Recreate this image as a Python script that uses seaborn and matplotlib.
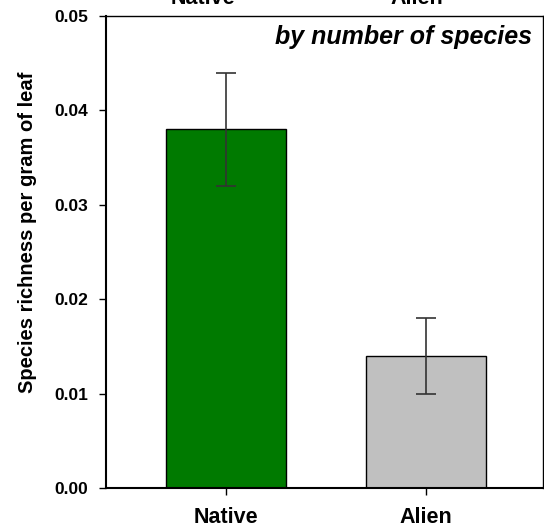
import matplotlib
matplotlib.use("Agg")
import matplotlib.pyplot as plt
import seaborn as sns
import pandas as pd

categories = ["Native", "Alien"]
values = [0.038, 0.014]
errors = [0.006, 0.004]
colors = ["#007A00", "#C0C0C0"]
yticks = [0.00, 0.01, 0.02, 0.03, 0.04, 0.05]
ytick_labels = ["0.00", "0.01", "0.02", "0.03", "0.04", "0.05"]
top_labels = ["Native", "Alien"]

sns.set_theme(style="white")
plt.rcParams["font.family"] = ["Liberation Sans", "DejaVu Sans"]
plt.rcParams["text.color"] = "black"
plt.rcParams["axes.labelcolor"] = "black"

df = pd.DataFrame({"group": categories, "value": values})

fig = plt.figure(figsize=(5.44, 5.29), dpi=100)
ax = fig.add_axes([106/544, 1-488/529, (543-106)/544, (488-16)/529])

sns.barplot(data=df, x="group", y="value", hue="group", palette=colors,
            width=0.6, edgecolor="black", linewidth=1.0, legend=False, ax=ax,
            errorbar=None, saturation=1)
ax.errorbar(x=list(range(len(categories))), y=values, yerr=errors, fmt="none",
            ecolor="#333333", elinewidth=1.2, capsize=7, capthick=1.2)

ax.set_yticks(yticks)
ax.set_yticklabels(ytick_labels, fontsize=12.5, fontweight="bold", color="black")
ax.set_xticks(range(len(categories)))
ax.set_xticklabels(categories, fontsize=15.5, fontweight="bold", color="black")
ax.set_xlim(-0.6, 0.585 + 1)
ax.set_ylim(0, 0.05)
ax.set_xlabel("")
ax.set_ylabel("Species richness per gram of leaf", fontsize=14.5, fontweight="bold",
              color="black")
ax.yaxis.set_label_coords(-(106-37)/437, (488-232)/472)
ax.tick_params(axis="both", direction="out", length=5, width=1, colors="black",
               left=True, bottom=True)
ax.tick_params(axis="y", pad=8)
ax.tick_params(axis="x", pad=9)
for s in ["left", "bottom"]:
    ax.spines[s].set_linewidth(1.5)
    ax.spines[s].set_color("black")
for s in ["top", "right"]:
    ax.spines[s].set_linewidth(1.0)
    ax.spines[s].set_color("black")

ax.text(0.975, 1-(37-16)/472, "by number of species", transform=ax.transAxes, ha="right",
        va="center", fontsize=18, fontweight="bold", fontstyle="italic", color="black")

# cut-off labels from panel above
for lab, xp in zip(top_labels, [203/544, 417/544]):
    fig.text(xp, 1-4/529, lab, ha="center", va="baseline", fontsize=15.5,
             fontweight="bold", color="black")

fig.savefig("out.png", dpi=100)
